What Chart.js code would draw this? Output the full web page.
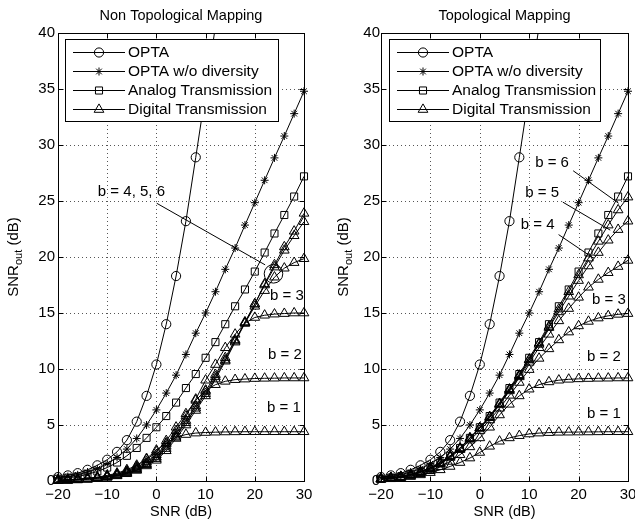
<!DOCTYPE html>
<html><head><meta charset="utf-8">
<script src="https://cdn.jsdelivr.net/npm/chart.js@4.4.0/dist/chart.umd.min.js"></script>
<style>
html,body{margin:0;padding:0;background:#fff;overflow:hidden;width:635px;height:522px}
#c1{position:absolute;left:0;top:0}
#c2{position:absolute;left:318px;top:0}
</style></head><body>
<canvas id="c1" width="318" height="522"></canvas>
<canvas id="c2" width="330" height="522"></canvas>
<script>
// ---- data ----
const snr = [-20,-18,-16,-14,-12,-10,-8,-6,-4,-2,0,2,4,6,8,10,12,14,16,18,20,22,24,26,28,30];
const xTicks = [-20,-10,0,10,20,30];
const yTicks = [0,5,10,15,20,25,30,35,40];

const opta = [0.35,0.5,0.7,1.0,1.4,1.9,2.6,3.65,5.3,7.6,10.4,14.0,18.3,23.2,28.9,34.7,40.6,null,null,null,null,null,null,null,null,null];
const optaNoDiv = [0.3,0.4,0.55,0.8,1.1,1.55,2.1,2.85,3.8,5.0,6.35,7.85,9.45,11.3,13.2,15.0,16.9,18.9,20.8,22.85,24.85,26.85,28.85,30.8,32.8,34.8];
const analog = [0.2,0.3,0.4,0.6,0.85,1.2,1.65,2.25,2.95,3.85,4.8,5.8,7.0,8.3,9.55,11.0,12.4,14.0,15.6,17.1,18.7,20.4,22.1,23.75,25.4,27.2];

// Non topological mapping, digital, b = 1..6
const ntB1 = [0.08,0.12,0.18,0.25,0.35,0.5,0.7,1.0,1.4,2.0,2.75,3.4,3.9,4.15,4.28,4.33,4.36,4.38,4.39,4.4,4.4,4.4,4.4,4.4,4.4,4.4];
const ntB2 = [0.07,0.1,0.15,0.22,0.32,0.45,0.62,0.9,1.3,1.9,2.6,3.6,4.8,6.0,7.2,8.1,8.6,8.9,9.05,9.1,9.15,9.17,9.18,9.2,9.2,9.2];
const ntB3 = [0.06,0.09,0.14,0.2,0.3,0.42,0.58,0.82,1.2,1.7,2.35,3.3,4.5,5.8,7.3,9.0,10.4,11.9,13.1,14.1,14.6,14.8,14.9,14.95,15.0,15.0];
const ntB4 = [0.05,0.08,0.12,0.18,0.27,0.38,0.53,0.75,1.1,1.55,2.15,3.1,4.2,5.4,6.7,8.0,9.5,11.0,12.6,14.1,15.6,17.0,18.2,19.0,19.5,19.85];
const ntB5 = [0.05,0.07,0.11,0.17,0.25,0.35,0.5,0.7,1.0,1.45,2.0,2.9,4.0,5.2,6.5,7.8,9.3,10.8,12.5,14.2,15.8,17.5,19.1,20.6,21.9,23.15];
const ntB6 = [0.04,0.06,0.1,0.15,0.23,0.33,0.46,0.65,0.95,1.35,1.85,2.7,3.8,5.0,6.3,7.6,9.1,10.7,12.4,14.1,15.8,17.6,19.3,20.9,22.3,23.9];

// Topological mapping, digital, b = 1..6
const tB1 = [0.15,0.2,0.3,0.4,0.55,0.75,1.0,1.3,1.65,2.05,2.55,3.1,3.55,3.85,4.05,4.2,4.28,4.32,4.35,4.36,4.37,4.38,4.39,4.4,4.4,4.4];
const tB2 = [0.15,0.22,0.32,0.46,0.65,0.92,1.28,1.75,2.35,3.05,3.85,4.8,5.9,6.85,7.6,8.2,8.6,8.85,9.0,9.08,9.12,9.15,9.17,9.18,9.2,9.2];
const tB3 = [0.18,0.27,0.37,0.52,0.75,1.05,1.5,2.1,2.8,3.65,4.5,5.45,6.5,7.65,8.8,9.95,10.95,11.8,12.6,13.3,13.85,14.25,14.55,14.75,14.88,14.95];
const tB4 = [0.2,0.28,0.38,0.55,0.8,1.1,1.55,2.2,2.9,3.8,4.7,5.65,6.8,8.05,9.3,10.6,11.9,13.1,14.3,15.4,16.4,17.3,18.0,18.6,19.15,19.7];
const tB5 = [0.2,0.29,0.39,0.57,0.82,1.15,1.6,2.2,2.9,3.8,4.75,5.7,6.9,8.15,9.4,10.8,12.2,13.7,15.1,16.5,17.9,19.2,20.4,21.5,22.45,23.2];
const tB6 = [0.2,0.3,0.4,0.58,0.83,1.15,1.6,2.25,2.95,3.85,4.75,5.75,6.9,8.2,9.45,10.85,12.3,13.8,15.35,16.9,18.4,19.9,21.4,22.85,24.2,25.35];

const legendLabels = ['OPTA','OPTA w/o diversity','Analog Transmission','Digital Transmission'];
const legendStyles = ['circle','star','rect','triangle'];
const titles = ['Non Topological Mapping','Topological Mapping'];
const xTitle = 'SNR (dB)';

// ---- helpers ----
const FONT = '"Liberation Sans", Arial, Helvetica, sans-serif';
const pts = arr => snr.map((x,i)=>({x, y: arr[i]}));
const minus = v => String(v).replace('-', '\u2212');
const styleOf = {circle:{r:4.6}, star:{r:4}, rect:{r:5}, triangle:{r:5.6}};

function ds(arr, style, extra) {
  return Object.assign({
    data: pts(arr), showLine: true, borderColor: '#000', borderWidth: 1,
    pointStyle: style, pointRadius: styleOf[style].r, pointBorderColor: '#000',
    pointBackgroundColor: 'rgba(0,0,0,0)', pointBorderWidth: 1, tension: 0,
    clip: 12, spanGaps: false
  }, extra || {});
}

const decor = {
  id: 'decor',
  beforeDatasetsDraw(chart, args, o) {
    const {ctx, chartArea: a, scales: {x, y}} = chart;
    ctx.save();
    ctx.strokeStyle = '#555'; ctx.lineWidth = 1; ctx.setLineDash([1,3]);
    xTicks.forEach(v => {
      if (v === x.min || v === x.max) return;
      const p = Math.round(x.getPixelForValue(v)) + 0.5;
      ctx.beginPath(); ctx.moveTo(p, a.top); ctx.lineTo(p, a.bottom); ctx.stroke();
    });
    yTicks.forEach(v => {
      if (v === y.min || v === y.max) return;
      const p = Math.round(y.getPixelForValue(v)) + 0.5;
      ctx.beginPath(); ctx.moveTo(a.left, p); ctx.lineTo(a.right, p); ctx.stroke();
    });
    ctx.restore();
  },
  afterDatasetsDraw(chart, args, o) {
    const {ctx, chartArea: a, scales: {x, y}} = chart;
    ctx.save();
    ctx.setLineDash([]);
    ctx.strokeStyle = '#000'; ctx.lineWidth = 1;
    const L = Math.round(a.left)+0.5, R = Math.round(a.right)+0.5, T = Math.round(a.top)+0.5, B = Math.round(a.bottom)+0.5;
    ctx.strokeRect(L, T, R-L, B-T);
    const tl = 5;
    ctx.beginPath();
    xTicks.forEach(v => {
      const p = Math.round(x.getPixelForValue(v)) + 0.5;
      ctx.moveTo(p, B); ctx.lineTo(p, B - tl);
      ctx.moveTo(p, T); ctx.lineTo(p, T + tl);
    });
    yTicks.forEach(v => {
      const p = Math.round(y.getPixelForValue(v)) + 0.5;
      ctx.moveTo(L, p); ctx.lineTo(L + tl, p);
      ctx.moveTo(R, p); ctx.lineTo(R - tl, p);
    });
    ctx.stroke();

    // annotations
    ctx.font = '15px ' + FONT; ctx.fillStyle = '#000';
    ctx.textBaseline = 'middle'; ctx.textAlign = 'left';
    (o.lines || []).forEach(l => {
      ctx.beginPath();
      ctx.moveTo(x.getPixelForValue(l[0]), y.getPixelForValue(l[1]));
      ctx.lineTo(x.getPixelForValue(l[2]), y.getPixelForValue(l[3]));
      ctx.stroke();
    });
    (o.circles || []).forEach(c => {
      ctx.beginPath();
      ctx.arc(x.getPixelForValue(c[0]), y.getPixelForValue(c[1]), c[2], 0, Math.PI*2);
      ctx.stroke();
    });
    (o.labels || []).forEach(t => {
      ctx.fillText(t[0], x.getPixelForValue(t[1]), y.getPixelForValue(t[2]));
    });

    // legend
    const lg = o.legend;
    const lx = a.left + lg.dx, ly = a.top + lg.dy;
    ctx.fillStyle = '#fff';
    ctx.fillRect(lx, ly, lg.w, lg.h);
    ctx.strokeRect(Math.round(lx)+0.5, Math.round(ly)+0.5, lg.w, lg.h);
    ctx.font = '15.5px ' + FONT;
    legendLabels.forEach((lab, i) => {
      const cy = Math.round(ly + 13 + i*19) + 0.5;
      ctx.beginPath(); ctx.moveTo(lx + 8, cy); ctx.lineTo(lx + 60, cy); ctx.stroke();
      const st = legendStyles[i];
      ctx.fillStyle = 'rgba(0,0,0,0)';
      Chart.helpers.drawPoint(ctx, {pointStyle: st, radius: styleOf[st].r, rotation: 0, borderWidth: 1}, lx + 34, cy);
      ctx.fillStyle = '#000';
      ctx.fillText(lab, lx + 63, cy);
    });

    // main title
    ctx.textAlign = 'center';
    ctx.font = '14.5px ' + FONT;
    ctx.fillText(o.title, (a.left + a.right)/2, 16);

    // y axis title with subscript
    const cx = a.left - o.yTitleOff, cyy = (a.top + a.bottom)/2;
    ctx.translate(cx, cyy); ctx.rotate(-Math.PI/2);
    ctx.textAlign = 'left';
    const f1 = '15px ' + FONT, f2 = '11px ' + FONT;
    ctx.font = f1; const w1 = ctx.measureText('SNR').width;
    ctx.font = f2; const w2 = ctx.measureText('out').width;
    ctx.font = f1; const w3 = ctx.measureText(' (dB)').width;
    let sx = -(w1 + w2 + w3)/2;
    ctx.font = f1; ctx.fillText('SNR', sx, 0); sx += w1;
    ctx.font = f2; ctx.fillText('out', sx, 5); sx += w2;
    ctx.font = f1; ctx.fillText(' (dB)', sx, 0);
    ctx.restore();
  }
};

function makeChart(id, series, dec, yW, padR, yPad) {
  const datasets = [
    ds(opta, 'circle', {clip: {left: 12, right: 12, bottom: 12, top: 0}}),
    ds(optaNoDiv, 'star'),
    ds(analog, 'rect'),
  ].concat(series.map(s => ds(s, 'triangle')));
  return new Chart(document.getElementById(id), {
    type: 'line',
    data: {datasets},
    plugins: [decor],
    options: {
      responsive: false, animation: false, events: [],
      layout: {padding: {top: 33, left: 0, right: padR, bottom: 0}},
      plugins: {legend: {display: false}, tooltip: {enabled: false}, decor: dec},
      scales: {
        x: {
          type: 'linear', min: -20, max: 30,
          afterBuildTicks: s => { s.ticks = xTicks.map(v => ({value: v})); },
          afterFit: s => { s.height = 41; },
          grid: {display: false, drawTicks: false}, border: {display: false},
          ticks: {color: '#000', font: {size: 15, family: FONT}, padding: 5, maxRotation: 0, autoSkip: false, callback: v => minus(v)},
          title: {display: true, text: xTitle, color: '#000', font: {size: 14.5, family: FONT}, padding: {top: 0, bottom: 1}}
        },
        y: {
          type: 'linear', min: 0, max: 40,
          afterBuildTicks: s => { s.ticks = yTicks.map(v => ({value: v})); },
          afterFit: s => { s.width = yW; },
          grid: {display: false, drawTicks: false}, border: {display: false},
          ticks: {color: '#000', font: {size: 15, family: FONT}, padding: yPad, autoSkip: false, callback: v => minus(v)}
        }
      }
    }
  });
}

makeChart('c1', [ntB1, ntB2, ntB3, ntB4, ntB5, ntB6], {
  title: titles[0], yTitleOff: 44,
  legend: {dx: 7, dy: 6, w: 213, h: 82},
  lines: [[0.06, 24.8, 22.1, 19.3]],
  circles: [[23.8, 18.5, 9.3]],
  labels: [['b = 4, 5, 6', -11.9, 25.8], ['b = 3', 23.1, 16.5], ['b = 2', 22.7, 11.25], ['b = 1', 22.5, 6.5]]
}, 58, 14, 3);

makeChart('c2', [tB1, tB2, tB3, tB4, tB5, tB6], {
  title: titles[1], yTitleOff: 37,
  legend: {dx: 8, dy: 6, w: 211, h: 82},
  lines: [[18.9, 27.7, 28.1, 24.8], [16.8, 24.9, 26.4, 22.4], [15.95, 22.0, 23.0, 19.9]],
  circles: [],
  labels: [['b = 6', 11.2, 28.4], ['b = 5', 9.2, 25.7], ['b = 4', 8.3, 22.9], ['b = 3', 22.7, 16.2], ['b = 2', 21.7, 11.1], ['b = 1', 21.7, 6.0]]
}, 63, 20, 1);
</script>
</body></html>
